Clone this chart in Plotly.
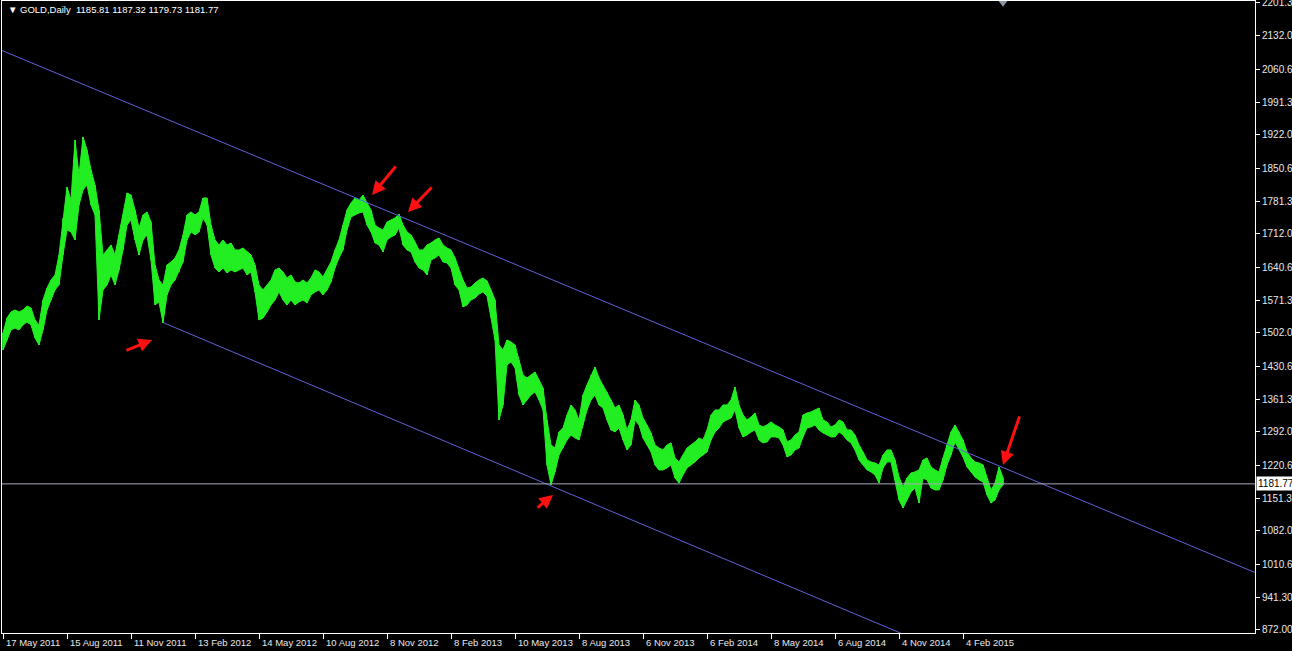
import plotly.graph_objects as go

# ---------------- data ----------------
SYMBOL_TITLE = "\u25bc GOLD,Daily  1185.81 1187.32 1179.73 1181.77"
LAST_CLOSE = 1181.77

# bar index of every sampled bar (1 bar per trading day, sampled every 4 bars)
BAR = list(range(0, 1001, 4))

HIGH = [
    1501.7, 1533.5, 1546.3, 1550.5, 1546.3, 1550.5, 1559.0, 1554.7, 1529.3, 1518.7,
    1571.7, 1597.1, 1614.1, 1624.7, 1667.1, 1745.5, 1811.3, 1783.7, 1910.9, 1836.7,
    1917.3, 1889.7, 1847.3, 1815.5, 1762.5, 1667.1, 1677.7, 1688.3, 1667.1, 1709.5,
    1751.9, 1798.5, 1794.3, 1762.5, 1724.3, 1751.9, 1758.3, 1737.1, 1645.9, 1614.1,
    1603.5, 1645.9, 1652.3, 1660.7, 1677.7, 1709.5, 1751.9, 1758.3, 1751.9, 1758.3,
    1787.9, 1787.9, 1730.7, 1698.9, 1688.3, 1698.9, 1688.3, 1692.5, 1677.7, 1677.7,
    1681.9, 1673.5, 1667.1, 1645.9, 1603.5, 1592.9, 1603.5, 1614.1, 1635.3, 1639.5,
    1631.1, 1618.3, 1624.7, 1609.9, 1607.7, 1614.1, 1607.7, 1618.3, 1635.3, 1631.1,
    1620.5, 1635.3, 1652.3, 1677.7, 1698.9, 1730.7, 1762.5, 1777.3, 1787.9, 1783.7,
    1794.3, 1777.3, 1762.5, 1730.7, 1724.3, 1720.1, 1737.1, 1741.3, 1745.5, 1754.0,
    1730.7, 1715.9, 1709.5, 1694.7, 1677.7, 1677.7, 1688.3, 1692.5, 1698.9, 1703.1,
    1688.3, 1681.9, 1677.7, 1660.7, 1635.3, 1614.1, 1597.1, 1599.3, 1607.7, 1614.1,
    1618.3, 1612.0, 1592.9, 1571.7,
    1476.3, 1465.7, 1486.9, 1482.7, 1476.3, 1444.5, 1412.7, 1406.3, 1412.7, 1419.1,
    1402.1, 1385.1, 1317.3, 1264.3, 1257.9, 1291.9, 1300.3, 1327.9, 1349.1, 1338.5,
    1317.3, 1370.3, 1391.5, 1412.7, 1429.7, 1406.3, 1391.5, 1376.7, 1359.7, 1342.7,
    1349.1, 1327.9, 1296.1, 1317.3, 1359.7, 1349.1, 1321.5, 1306.7, 1289.7, 1264.3,
    1257.9, 1253.7, 1264.3, 1268.5, 1236.7, 1228.3, 1243.1, 1257.9, 1264.3, 1270.7,
    1279.1, 1274.9, 1296.1, 1327.9, 1338.5, 1338.5, 1349.1, 1349.1, 1359.7, 1387.3,
    1349.1, 1327.9, 1317.3, 1323.7, 1332.1, 1306.7, 1302.5, 1306.7, 1313.1, 1306.7,
    1302.5, 1296.1, 1270.7, 1274.9, 1285.5, 1291.9, 1327.9, 1332.1, 1334.3, 1338.5,
    1342.7, 1317.3, 1313.1, 1302.5, 1306.7, 1317.3, 1313.1, 1296.1, 1296.1, 1285.5,
    1264.3, 1249.5, 1232.5, 1228.3, 1226.1, 1221.9, 1243.1, 1253.7, 1253.7, 1232.5,
    1196.5, 1175.3, 1194.3, 1204.9, 1207.1, 1211.3, 1232.5, 1236.7, 1217.7, 1211.3,
    1207.1, 1236.7, 1264.3, 1291.9, 1306.7, 1291.9, 1274.9, 1249.5, 1236.7, 1228.3,
    1226.1, 1221.9, 1194.3, 1168.9, 1183.7, 1217.7, 1195.0,
]

LOW = [
    1465.7, 1486.9, 1508.1, 1512.3, 1508.1, 1518.7, 1525.1, 1518.7, 1491.1, 1476.3,
    1508.1, 1550.5, 1571.7, 1592.9, 1603.5, 1667.1, 1720.1, 1715.9, 1698.9, 1773.1,
    1804.9, 1815.5, 1773.1, 1751.9, 1529.3, 1592.9, 1603.5, 1624.7, 1603.5, 1635.3,
    1677.7, 1730.7, 1741.3, 1698.9, 1667.1, 1698.9, 1709.5, 1656.5, 1561.1, 1567.5,
    1522.9, 1582.3, 1603.5, 1614.1, 1631.1, 1652.3, 1698.9, 1715.9, 1709.5, 1715.9,
    1745.5, 1730.7, 1667.1, 1639.5, 1631.1, 1639.5, 1628.9, 1635.3, 1631.1, 1635.3,
    1639.5, 1624.7, 1631.1, 1588.7, 1529.3, 1533.5, 1546.3, 1561.1, 1571.7, 1588.7,
    1571.7, 1561.1, 1571.7, 1561.1, 1567.5, 1571.7, 1565.3, 1582.3, 1588.7, 1592.9,
    1582.3, 1592.9, 1609.9, 1639.5, 1660.7, 1677.7, 1720.1, 1747.7, 1751.9, 1756.1,
    1758.3, 1730.7, 1715.9, 1692.5, 1688.3, 1673.5, 1698.9, 1705.3, 1709.5, 1724.3,
    1688.3, 1677.7, 1673.5, 1652.3, 1639.5, 1635.3, 1624.7, 1656.5, 1660.7, 1667.1,
    1652.3, 1650.1, 1639.5, 1603.5, 1592.9, 1556.9, 1561.1, 1571.7, 1575.9, 1584.4,
    1588.7, 1580.2, 1535.7, 1486.9,
    1317.3, 1349.1, 1433.9, 1440.3, 1427.5, 1370.3, 1349.1, 1359.7, 1370.3, 1376.7,
    1359.7, 1338.5, 1221.9, 1179.5, 1207.1, 1243.1, 1257.9, 1274.9, 1285.5, 1279.1,
    1274.9, 1306.7, 1338.5, 1359.7, 1370.3, 1349.1, 1342.7, 1317.3, 1296.1, 1291.9,
    1300.3, 1274.9, 1253.7, 1264.3, 1317.3, 1306.7, 1279.1, 1264.3, 1249.5, 1221.9,
    1211.3, 1211.3, 1215.5, 1221.9, 1194.3, 1183.7, 1200.7, 1215.5, 1221.9, 1228.3,
    1236.7, 1243.1, 1249.5, 1274.9, 1291.9, 1300.3, 1313.1, 1317.3, 1321.5, 1338.5,
    1300.3, 1281.3, 1285.5, 1291.9, 1296.1, 1274.9, 1268.5, 1270.7, 1281.3, 1281.3,
    1279.1, 1264.3, 1238.9, 1243.1, 1253.7, 1257.9, 1281.3, 1300.3, 1302.5, 1306.7,
    1296.1, 1289.7, 1285.5, 1281.3, 1281.3, 1291.9, 1285.5, 1274.9, 1268.5, 1253.7,
    1232.5, 1221.9, 1211.3, 1207.1, 1200.7, 1183.7, 1215.5, 1228.3, 1228.3, 1190.1,
    1147.7, 1130.7, 1147.7, 1164.7, 1173.1, 1141.3, 1194.3, 1190.1, 1173.1, 1168.9,
    1168.9, 1190.1, 1221.9, 1243.1, 1270.7, 1253.7, 1238.9, 1217.7, 1207.1, 1196.5,
    1190.1, 1185.9, 1158.3, 1141.3, 1147.7, 1168.9, 1179.7,
]

# price axis labels (right side)
PRICE_TICKS = [2201.30, 2132.00, 2060.60, 1991.30, 1922.00, 1850.60, 1781.30, 1712.00,
               1640.60, 1571.30, 1502.00, 1430.60, 1361.30, 1292.00, 1220.60, 1151.30,
               1082.00, 1010.60, 941.30, 872.00]

# date axis labels (bottom)
DATE_TICK_BARS = [0, 64, 128, 192, 256, 320, 384, 448, 512, 576, 640, 704, 768, 832, 896, 960]
DATE_LABELS = ["17 May 2011", "15 Aug 2011", "11 Nov 2011", "13 Feb 2012", "14 May 2012",
               "10 Aug 2012", "8 Nov 2012", "8 Feb 2013", "10 May 2013", "8 Aug 2013",
               "6 Nov 2013", "6 Feb 2014", "8 May 2014", "6 Aug 2014", "4 Nov 2014",
               "4 Feb 2015"]

# channel lines: (bar, price) end points
UPPER_CHANNEL = [(-3, 2102.3), (1252, 993.8)]
LOWER_CHANNEL = [(161, 1522.9), (1252, 549.0)]

# red arrows: (tail bar, tail price, head bar, head price)
ARROWS = [
    (122, 1463.5, 149, 1486.9),
    (394, 1857.9, 369, 1794.3),
    (430, 1813.4, 405, 1758.3),
    (533, 1128.6, 550, 1158.3),
    (1017, 1327.9, 1000, 1221.9),
]

X_RANGE = [-1, 1252]
Y_RANGE = [865.6, 2205.5]

# ---------------- figure ----------------
FONT = "Liberation Sans, Arial, sans-serif"
GREEN = "#22ee22"

# high/low envelope of the daily bars (upper edge forward, lower edge back)
poly_x = BAR + BAR[::-1] + [BAR[0]]
poly_y = HIGH + LOW[::-1] + [HIGH[0]]

xs, ys = [], []
for b, h, l in zip(BAR, HIGH, LOW):
    xs += [b, b, None]
    ys += [l, h, None]

fig = go.Figure()
fig.add_trace(go.Scatter(x=poly_x, y=poly_y, mode="lines", fill="toself",
                         fillcolor=GREEN, line=dict(color=GREEN, width=1),
                         hoverinfo="skip", showlegend=False))
fig.add_trace(go.Scatter(x=xs, y=ys, mode="lines",
                         line=dict(color=GREEN, width=1.5),
                         hoverinfo="skip", showlegend=False))

for pts in (UPPER_CHANNEL, LOWER_CHANNEL):
    fig.add_trace(go.Scatter(x=[p[0] for p in pts], y=[p[1] for p in pts],
                             mode="lines", line=dict(color="#6060d8", width=1),
                             hoverinfo="skip", showlegend=False))

fig.add_shape(type="line", xref="paper", x0=0, x1=1, yref="y",
              y0=LAST_CLOSE, y1=LAST_CLOSE, line=dict(color="#a8a8bc", width=1))

# chart-shift marker at the top
fig.add_trace(go.Scatter(x=[BAR[-1]], y=[2203.0], mode="markers",
                         marker=dict(symbol="triangle-down", size=9, color="#8a96a4"),
                         cliponaxis=False, hoverinfo="skip", showlegend=False))

annotations = []
for tb, tp, hb, hp in ARROWS:
    annotations.append(dict(x=hb, y=hp, ax=tb, ay=tp, xref="x", yref="y",
                            axref="x", ayref="y", text="", showarrow=True,
                            arrowhead=2, arrowsize=0.9, arrowwidth=3,
                            arrowcolor="#ff1010"))

for b, lab in zip(DATE_TICK_BARS, DATE_LABELS):
    annotations.append(dict(x=b, y=0, xref="x", yref="paper", text=lab,
                            showarrow=False, xanchor="left", yanchor="top",
                            xshift=1, yshift=-2,
                            font=dict(family=FONT, size=9.5, color="#e8e8e8")))

annotations.append(dict(x=0, y=1, xref="paper", yref="paper", text=SYMBOL_TITLE,
                        showarrow=False, xanchor="left", yanchor="top",
                        xshift=4, yshift=-1,
                        font=dict(family=FONT, size=9.5, color="#ffffff")))

annotations.append(dict(x=1, y=LAST_CLOSE, xref="paper", yref="y",
                        text=f"{LAST_CLOSE:.2f}", showarrow=False,
                        xanchor="left", yanchor="middle", xshift=1,
                        bgcolor="#ffffff", borderpad=1,
                        font=dict(family=FONT, size=10, color="#000000")))

fig.update_layout(
    width=1292, height=651,
    margin=dict(l=2, r=37, t=1, b=18, pad=0, autoexpand=False),
    paper_bgcolor="#000000", plot_bgcolor="#000000",
    showlegend=False,
    annotations=annotations,
    xaxis=dict(range=X_RANGE, showgrid=False, zeroline=False,
               showline=True, linecolor="#ffffff", linewidth=1, mirror=True,
               ticks="outside", ticklen=5, tickcolor="#ffffff", tickwidth=1,
               tickvals=DATE_TICK_BARS, showticklabels=False, automargin=False),
    yaxis=dict(range=Y_RANGE, side="right", showgrid=False, zeroline=False,
               showline=True, linecolor="#ffffff", linewidth=1, mirror=True,
               ticks="outside", ticklen=4, tickcolor="#ffffff", tickwidth=1,
               tickvals=PRICE_TICKS, ticktext=[f"{v:.2f}" for v in PRICE_TICKS],
               tickfont=dict(family=FONT, size=10, color="#e8e8e8"),
               ticklabeloverflow="allow",
               automargin=False),
)

fig.write_html("out.html", config={"displayModeBar": False},
               post_script="document.body.style.margin='0';document.body.style.overflow='hidden';")
